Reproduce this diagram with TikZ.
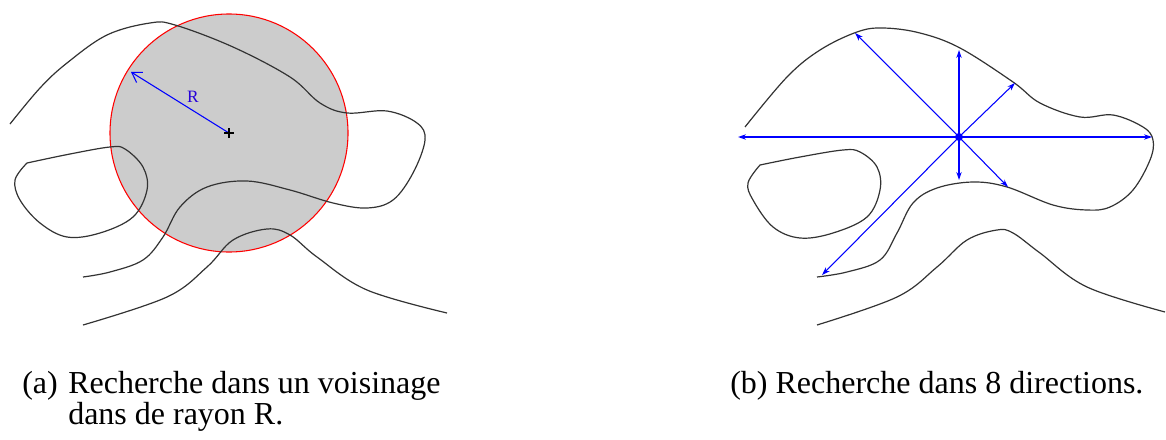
\documentclass[tikz,border=0pt]{standalone}
\usepackage{fontspec}
\setmainfont{Liberation Serif}
\usetikzlibrary{arrows.meta}
\tikzset{
  curve/.style={draw=black!80, line width=0.9pt, smooth, tension=0.6},
  ray/.style={draw=blue, line width=0.8pt, -{Stealth[length=6pt,width=4pt]}},
  radius arrow/.style={draw=blue, line width=0.8pt, -{Straight Barb[length=7pt,width=9pt]}},
  captext/.style={anchor=base west, inner sep=0pt, font=\fontsize{24}{31}\selectfont},
}
\begin{document}
\begin{tikzpicture}[x=0.75pt,y=-0.75pt]
\useasboundingbox (0,0) rectangle (1166,439);
% ---------- panel (a)
\coordinate (ca) at (229,133);
\fill[black!20] (ca) circle[radius=119];
\draw[red, line width=0.8pt] (ca) circle[radius=119];
\draw[curve] plot coordinates {(10,124) (40,88) (67,63) (107,35) (150,23) (175,25) (233,47) (290,77) (320,103) (347,113) (387,111) (417,123) (425,140) (413,173) (393,200) (367,208) (333,203) (290,190) (247,181) (207,187) (180,207) (163,237) (143,260) (110,272) (83,277)};
\draw[curve] plot coordinates {(27,163) (70,154) (110,147) (125,149) (143,167) (147,190) (133,217) (100,233) (67,237) (40,223) (20,200) (15,180) (27,163)};
\draw[curve] plot coordinates {(83,325) (167,297) (207,267) (233,240) (267,229) (290,235) (317,257) (367,290) (447,313)};
\coordinate (ra) at (131,72);
\draw[radius arrow] (ca) -- (ra);
\node[text=blue!70!violet, font=\fontsize{13}{15}\selectfont, inner sep=0pt] (rlab) at (193,97) {R};
\draw[black, line width=0.8pt] (ca) ++(-5,0) -- ++(10,0) (ca) ++(0,-5) -- ++(0,10);
% ---------- panel (b)
\draw[curve] plot coordinates {(745,127) (787,77) (820,50) (857,32) (883,28) (920,33) (960,48) (1013,82) (1040,103) (1080,117) (1113,115) (1143,127) (1153,140) (1150,160) (1133,190) (1110,207) (1087,210) (1053,205) (1007,187) (973,182) (937,188) (913,203) (897,233) (880,260) (847,272) (817,277)};
\draw[curve] plot coordinates {(760,165) (800,157) (843,150) (860,152) (877,167) (880,190) (867,217) (833,233) (800,238) (773,227) (753,200) (748,183) (760,165)};
\draw[curve] plot coordinates {(817,325) (897,297) (937,267) (967,240) (997,230) (1013,233) (1040,253) (1087,287) (1165,312)};
\coordinate (cb) at (959,137);
\coordinate (dl) at (738,137);
\coordinate (dr) at (1152,137);
\coordinate (du) at (959,50);
\coordinate (dd) at (959,180);
\coordinate (dul) at (855,33);
\coordinate (dur) at (1015,83);
\coordinate (ddr) at (1008,187);
\coordinate (ddl) at (822,275);
\foreach \t in {dl,dr,du,dd,dul,dur,ddr,ddl} \draw[ray] (cb) -- (\t);
\fill[blue] (cb) circle[radius=4];
% ---------- captions
\node[captext] (la) at (22,393) {(a)};
\node[captext] (ta1) at (68,393) {Recherche dans un voisinage};
\node[captext] (ta2) at (68,424) {dans de rayon R.};
\node[captext] (tb) at (730,393) {(b) Recherche dans 8 directions.};
\end{tikzpicture}
\end{document}
